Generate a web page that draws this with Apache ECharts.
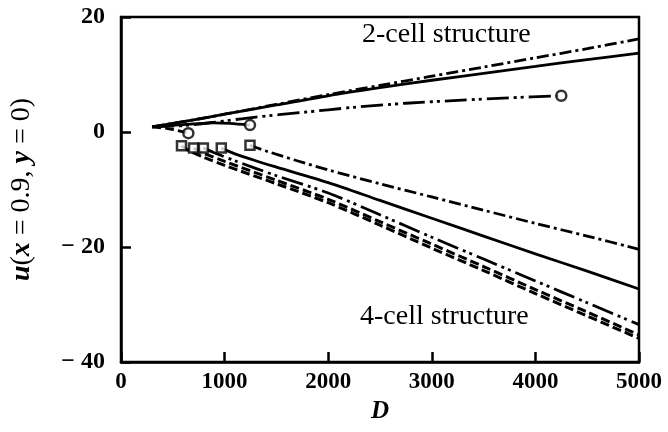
<!DOCTYPE html>
<html>
<head>
<meta charset="utf-8">
<script src="https://cdn.jsdelivr.net/npm/echarts@6/dist/echarts.min.js"></script>
<style>html,body{margin:0;padding:0;background:#fff}#c{width:668px;height:432px}</style>
</head>
<body>
<div id="c"></div>
<script>
// Axis ticks
const xTicks = [0, 1000, 2000, 3000, 4000, 5000];
const yTicks = [-40, -20, 0, 20];

// 2-cell structure branch (upper)
const upDashDot = [[300,0.9],[700,2.1],[1000,3.1],[1500,4.8],[2000,6.5],[2500,8.1],[3000,9.7],[3500,11.3],[4000,12.9],[4500,14.5],[5000,16.2]];
const upSolid = [[300,0.9],[700,2.1],[1000,3.1],[1500,4.7],[2000,6.3],[2500,7.7],[3000,9.0],[3500,10.2],[4000,11.4],[4500,12.6],[5000,13.7]];
const upDashDotDot = [[300,0.9],[600,1.1],[900,1.7],[1300,2.6],[1750,3.4],[2250,4.3],[2750,5.0],[3250,5.5],[3750,5.95],[4250,6.3]];
const upShortSolid = [[300,0.9],[700,1.4],[900,1.6],[1050,1.5],[1245,1.2]];
const upShortDash = [[300,0.9],[450,0.6],[560,0.2],[650,-0.2]];
const circles = [[650,-0.2],[1245,1.2],[4250,6.3]];

// 4-cell structure branch (lower)
const loDashDot = [[1245,-2.3],[1400,-3.3],[1700,-5.0],[2000,-6.6],[2500,-9.0],[3000,-11.3],[3500,-13.6],[4000,-15.9],[4500,-18.1],[5000,-20.4]];
const loSolid = [[968,-2.8],[1100,-3.8],[1300,-5.0],[1500,-6.1],[2000,-8.8],[2500,-11.9],[3000,-15.0],[3500,-18.1],[4000,-21.2],[4500,-24.2],[5000,-27.3]];
const loDashDotDot = [[795,-2.8],[900,-3.6],[1100,-5.0],[1500,-7.6],[2000,-10.6],[2500,-14.4],[3000,-18.3],[3500,-22.1],[4000,-25.9],[4500,-29.7],[5000,-33.5]];
const loDashB = [[700,-2.8],[800,-3.7],[1000,-5.1],[1500,-8.4],[2000,-11.7],[2500,-15.6],[3000,-19.5],[3500,-23.4],[4000,-27.4],[4500,-31.3],[5000,-35.3]];
const loDashA = [[584,-2.4],[650,-3.2],[800,-4.4],[1000,-5.8],[1500,-9.0],[2000,-12.3],[2500,-16.2],[3000,-20.2],[3500,-24.1],[4000,-28.1],[4500,-32.0],[5000,-35.9]];
const squares = [[584,-2.4],[700,-2.8],[795,-2.8],[968,-2.8],[1245,-2.3]];

const font = '"Liberation Serif", "DejaVu Serif", serif';
const DASHDOT = [12,4,3,4];
const DASHDOTDOT = [22,5,3,4,3,5];
const DASHED = [9,4];

function line(data, type, width) {
  return {
    type: 'line', data: data, smooth: 0.3, symbol: 'none', silent: true, z: 3,
    lineStyle: { color: '#000', width: width || 2.8, type: type }
  };
}

const chart = echarts.init(document.getElementById('c'), null, {renderer: 'canvas'});
chart.setOption({
  animation: false,
  backgroundColor: '#fff',
  grid: { left: 117, right: 29, top: 17, bottom: 70, show: true, borderColor: '#000', borderWidth: 2.5 },
  xAxis: {
    type: 'value', min: 0, max: 5000, interval: 1000,
    name: 'D', nameLocation: 'middle', nameGap: 35,
    nameTextStyle: { fontFamily: font, fontSize: 25, fontStyle: 'italic', fontWeight: 'bold', color: '#000' },
    axisLine: { show: true, onZero: false, lineStyle: { color: '#000', width: 2.5 } },
    axisTick: { show: true, inside: true, length: 10, lineStyle: { color: '#000', width: 2.5 } },
    axisLabel: { margin: 9, fontFamily: font, fontSize: 23, fontWeight: 'bold', color: '#000',
      formatter: function (v) { return xTicks.indexOf(v) >= 0 ? String(v) : ''; } },
    splitLine: { show: false }
  },
  yAxis: {
    type: 'value', min: -40, max: 20, interval: 20,
    name: '{i|u}({i|x} = 0.9, {i|y} = 0)', nameLocation: 'middle', nameGap: 85,
    nameTextStyle: { fontFamily: font, fontSize: 28, color: '#000',
      rich: { i: { fontFamily: font, fontSize: 28, fontStyle: 'italic', fontWeight: 'bold', color: '#000' } } },
    axisLine: { show: true, onZero: false, lineStyle: { color: '#000', width: 2.5 } },
    axisTick: { show: true, inside: true, length: 10, lineStyle: { color: '#000', width: 2.5 } },
    axisLabel: { margin: 16, fontFamily: font, fontSize: 24, fontWeight: 'bold', color: '#000',
      formatter: function (v) { return yTicks.indexOf(v) < 0 ? '' : (v < 0 ? '\u2212 ' + Math.abs(v) : String(v)); } },
    splitLine: { show: false }
  },
  graphic: [
    { type: 'text', left: 362, top: 21, style: { text: '2-cell structure', fontFamily: font, fontSize: 28, fill: '#000' } },
    { type: 'text', left: 360, top: 303, style: { text: '4-cell structure', fontFamily: font, fontSize: 28, fill: '#000' } }
  ],
  series: [
    line(upDashDot, DASHDOT),
    line(upSolid, 'solid'),
    line(upDashDotDot, DASHDOTDOT),
    line(upShortSolid, 'solid'),
    line(upShortDash, DASHED),
    line(loDashDot, DASHDOT),
    line(loSolid, 'solid'),
    line(loDashDotDot, DASHDOTDOT),
    line(loDashB, DASHED, 3),
    line(loDashA, DASHED, 3),
    { type: 'scatter', data: circles, symbol: 'circle', symbolSize: 10, z: 5, silent: true,
      itemStyle: { color: '#fff', borderColor: '#000', borderWidth: 2.5 } },
    { type: 'scatter', data: squares, symbol: 'rect', symbolSize: 9, z: 5, silent: true,
      itemStyle: { color: '#fff', borderColor: '#000', borderWidth: 2.5 } }
  ]
});
</script>
</body>
</html>
